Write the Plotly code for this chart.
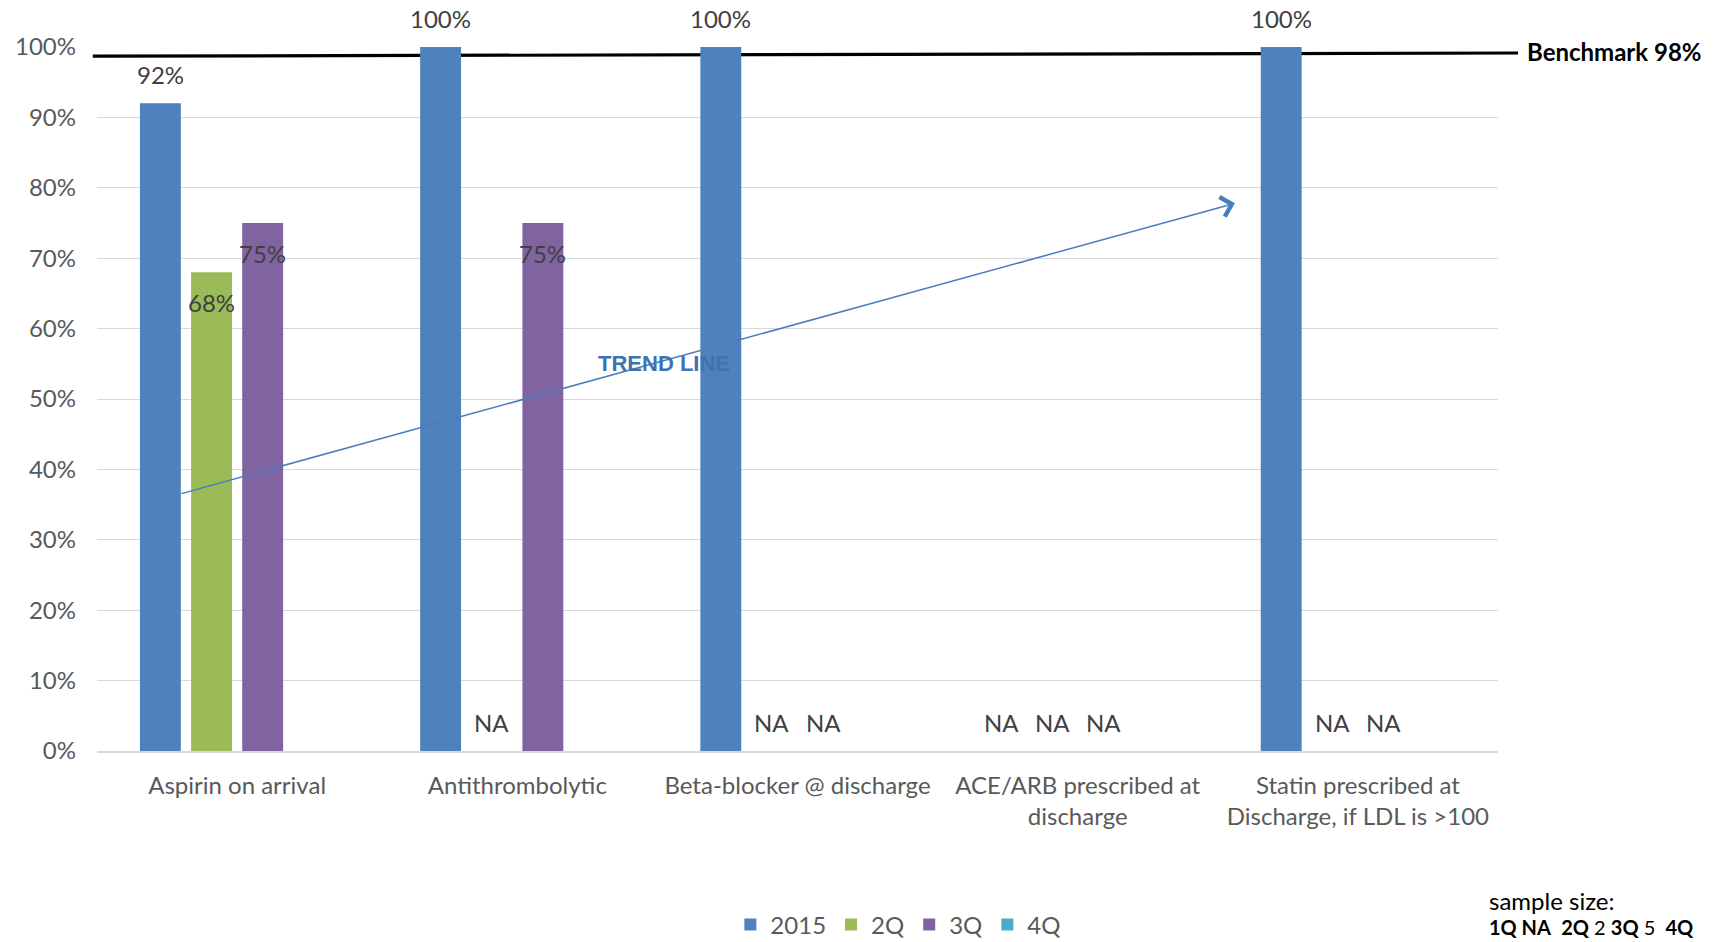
import plotly.graph_objects as go

# ---- data ----
categories = [
    "Aspirin on arrival",
    "Antithrombolytic",
    "Beta-blocker @ discharge",
    "ACE/ARB prescribed at<br>discharge",
    "Statin prescribed at<br>Discharge, if LDL is >100",
]
series_names = ["2015", "2Q", "3Q", "4Q"]
s2015 = [0.92, 1.00, 1.00, None, 1.00]
s2q = [0.68, None, None, None, None]
s3q = [0.75, 0.75, None, None, None]
s4q = [None, None, None, None, None]
series_values = [s2015, s2q, s3q, s4q]
# label placement per series: outside (above bar) or inside (below top)
label_pos = ["outside", "inside", "inside", None]
benchmark = 0.98
trend_start = (-0.204, 0.365)   # (category index, value)
trend_end = (3.561, 0.778)
sample_size = {"1Q": "NA", "2Q": "2", "3Q": "5", "4Q": ""}

colors = ["#4F81BD", "#9BBB59", "#8064A2", "#4BACC6"]
FONT = "Lato"
GRAY = "#595959"
DARK = "#404040"
FS = 24

bargap = 0.27
nser = len(series_names)
slot = (1 - bargap) / nser

fig = go.Figure()
for name, vals, col in zip(series_names, series_values, colors):
    fig.add_trace(go.Bar(
        name=name, x=categories, y=vals, marker_color=col,
        marker_line_width=0,
    ))

annotations = []
for si, (vals, pos) in enumerate(zip(series_values, label_pos)):
    if pos is None:
        continue
    for ci, v in enumerate(vals):
        xpos = ci - (1 - bargap) / 2 + (si + 0.5) * slot
        if v is None:
            annotations.append(dict(x=xpos, y=0, xref="x", yref="y", text="NA",
                                    showarrow=False, yanchor="bottom", yshift=12,
                                    font=dict(family=FONT, size=FS, color=DARK)))
        elif pos == "outside":
            annotations.append(dict(x=xpos, y=v, xref="x", yref="y",
                                    text=f"{v*100:.0f}%", showarrow=False,
                                    yanchor="bottom", yshift=12,
                                    font=dict(family=FONT, size=FS, color=DARK)))
        else:
            annotations.append(dict(x=xpos, y=v, xref="x", yref="y",
                                    text=f"{v*100:.0f}%", showarrow=False,
                                    yanchor="top", yshift=-14,
                                    font=dict(family=FONT, size=FS, color=DARK)))

# trend arrow
annotations.append(dict(x=trend_end[0], y=trend_end[1], ax=trend_start[0], ay=trend_start[1],
                        xref="x", yref="y", axref="x", ayref="y", text="",
                        showarrow=True, arrowhead=4, arrowsize=2.6, arrowwidth=1.5,
                        arrowcolor="#4A7EBB", standoff=0, startstandoff=0))
# TREND LINE wordart
annotations.append(dict(x=1.524, y=0.55, xref="x", yref="y", text="<b>TREND LINE</b>",
                        showarrow=False,
                        font=dict(family="Liberation Sans", size=22, color="#3F72B0")))
# benchmark label
annotations.append(dict(x=1.019, y=0.993, xref="paper", yref="paper",
                        text=f"<b>Benchmark {benchmark*100:.0f}%</b>", showarrow=False,
                        xanchor="left", yanchor="middle",
                        font=dict(family=FONT, size=FS, color="black")))
# sample size
ss_line = "&nbsp;&nbsp;".join(
    [f"<b>1Q {sample_size['1Q']}</b>",
     f"<b>2Q</b> {sample_size['2Q']} <b>3Q</b> {sample_size['3Q']}",
     f"<b>4Q</b>{sample_size['4Q']}"])
annotations.append(dict(x=0.992, y=-0.212, xref="paper", yref="paper",
                        text="sample size:", showarrow=False, xanchor="left", yanchor="middle",
                        font=dict(family=FONT, size=FS, color="black")))
annotations.append(dict(x=0.992, y=-0.25, xref="paper", yref="paper",
                        text=ss_line, showarrow=False, xanchor="left", yanchor="middle",
                        font=dict(family=FONT, size=20, color="black")))

fig.update_layout(
    width=1716, height=942,
    margin=dict(l=97, r=218, t=47, b=191, autoexpand=False),
    barmode="group", bargap=bargap, bargroupgap=0.2,
    plot_bgcolor="rgba(0,0,0,0)", paper_bgcolor="white",
    font=dict(family=FONT, size=FS, color=GRAY),
    annotations=annotations,
    shapes=[dict(type="line", xref="paper", yref="paper",
                 x0=-0.003, x1=1.0143, y0=0.987, y1=0.9915,
                 line=dict(color="black", width=3.2), layer="below")],
    legend=dict(orientation="h", x=0.572, xanchor="center", y=-0.247, yanchor="middle",
                font=dict(family=FONT, size=FS, color=GRAY), itemwidth=30,
                traceorder="normal"),
    showlegend=True,
)
fig.update_yaxes(range=[0, 1], tickvals=[i / 10 for i in range(11)], tickformat=".0%",
                 showgrid=True, gridcolor="#D9D9D9", gridwidth=1.3, zeroline=False,
                 showline=False, ticklabelstandoff=20,
                 tickfont=dict(family=FONT, size=FS, color=GRAY))
fig.update_xaxes(showline=True, linecolor="#D9D9D9", linewidth=2, tickangle=0,
                 ticklabelstandoff=12, tickfont=dict(family=FONT, size=FS, color=GRAY))

fig.write_html("out.html")
